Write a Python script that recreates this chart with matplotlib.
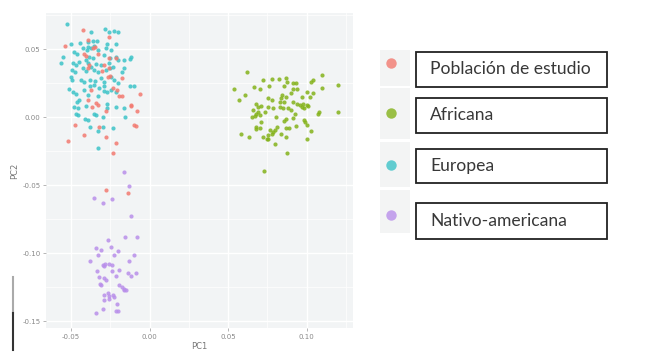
import matplotlib
matplotlib.use('Agg')
import matplotlib.pyplot as plt
from matplotlib.patches import Rectangle
from matplotlib.lines import Line2D
import numpy as np

# ---- data (PC1 / PC2 scores) ----
estudio_x = [-0.0424, -0.0542, -0.0391, -0.0258, -0.0363, -0.0346, -0.0416, -0.0405, -0.0331, -0.0258,
             -0.0215, -0.0384, -0.0394, -0.0289, -0.0304, -0.0258, -0.0268, -0.0253, -0.0173, -0.0236,
             -0.0373, -0.0209, -0.0194, -0.0173, -0.0061, -0.0394, -0.0342, -0.0331, -0.0367, -0.0278,
             -0.0120, -0.0120, -0.0078, -0.0473, -0.0325, -0.0099, -0.0089, -0.0416, -0.0278, -0.0521,
             -0.0215, -0.0232, -0.0277, -0.0136]
estudio_y = [0.0640, 0.0520, 0.0566, 0.0593, 0.0505, 0.0517, 0.0461, 0.0451, 0.0461, 0.0436,
             0.0436, 0.0382, 0.0358, 0.0382, 0.0338, 0.0363, 0.0296, 0.0304, 0.0285, 0.0211,
             0.0199, 0.0199, 0.0157, 0.0157, 0.0167, 0.0125, 0.0101, 0.0088, 0.0076, 0.0044,
             0.0093, 0.0083, 0.0044, -0.0059, -0.0071, -0.0054, -0.0064, -0.0132, -0.0145, -0.0174,
             -0.0193, -0.0260, -0.0537, -0.0559]

africana_x = [0.062, 0.110, 0.104, 0.103, 0.072, 0.078, 0.0825, 0.087, 0.0875, 0.091,
              0.0935, 0.0666, 0.070, 0.076, 0.0856, 0.091, 0.094, 0.054, 0.110, 0.090,
              0.100, 0.104, 0.061, 0.057, 0.084, 0.0835, 0.087, 0.0755, 0.078, 0.097,
              0.102, 0.0675, 0.069, 0.071, 0.083, 0.0856, 0.091, 0.094, 0.0956, 0.0977,
              0.100, 0.101, 0.0755, 0.0787, 0.083, 0.085, 0.088, 0.090, 0.097, 0.098,
              0.066, 0.069, 0.0734, 0.070, 0.068, 0.065, 0.067, 0.0804, 0.087, 0.0924,
              0.0913, 0.108, 0.107, 0.098, 0.099, 0.1004, 0.071, 0.0856, 0.068, 0.070,
              0.0675, 0.081, 0.087, 0.089, 0.0935, 0.0766, 0.0783, 0.0797, 0.0777, 0.0755,
              0.1025, 0.058, 0.0835, 0.087, 0.063, 0.072, 0.0745, 0.0755, 0.100, 0.080,
              0.0875, 0.073, 0.120, 0.120]
africana_y = [0.0330, 0.0310, 0.0270, 0.0260, 0.0270, 0.0280, 0.0280, 0.0285, 0.0260, 0.0250,
              0.0250, 0.0223, 0.0210, 0.0230, 0.0230, 0.0206, 0.0210, 0.0206, 0.0215, 0.0180,
              0.0186, 0.0180, 0.0160, 0.0130, 0.0160, 0.0140, 0.0150, 0.0140, 0.0125, 0.0150,
              0.0150, 0.0100, 0.0076, 0.0083, 0.0113, 0.0108, 0.0113, 0.0100, 0.0093, 0.0100,
              0.0093, 0.0083, 0.0076, 0.0064, 0.0076, 0.0068, 0.0064, 0.0050, 0.0076, 0.0064,
              0.0050, 0.0040, 0.0040, 0.0015, 0.0020, -0.0002, 0.0010, 0.0002, -0.0010, 0.0020,
              -0.0005, 0.0040, 0.0020, -0.0022, -0.0039, -0.0054, -0.0039, -0.0029, -0.0070, -0.0080,
              -0.0088, -0.0070, -0.0083, -0.0080, -0.0066, -0.0096, -0.0108, -0.0096, -0.0120, -0.0130,
              -0.0103, -0.0120, -0.0127, -0.0145, -0.0145, -0.0145, -0.0160, -0.0157, -0.0157, -0.0200,
              -0.0267, -0.0397, 0.0235, 0.0040]

europea_x = [-0.0527, -0.0285, -0.0258, -0.0230, -0.0201, -0.0373, -0.0500, -0.0441, -0.0391, -0.0363,
             -0.0335, -0.0272, -0.0215, -0.0391, -0.0373, -0.0353, -0.0331, -0.0399, -0.0278, -0.0247,
             -0.0426, -0.0483, -0.0462, -0.0553, -0.0563, -0.0384, -0.0363, -0.0405, -0.0289, -0.0251,
             -0.0215, -0.0204, -0.0166, -0.0120, -0.0125, -0.0489, -0.0468, -0.0447, -0.0394, -0.0373,
             -0.0342, -0.0310, -0.0258, -0.0236, -0.0163, -0.0173, -0.0496, -0.0475, -0.0426, -0.0405,
             -0.0353, -0.0331, -0.0278, -0.0251, -0.0500, -0.0496, -0.0437, -0.0416, -0.0378, -0.0348,
             -0.0310, -0.0289, -0.0247, -0.0226, -0.0204, -0.0125, -0.0099, -0.0378, -0.0353, -0.0321,
             -0.0289, -0.0511, -0.0489, -0.0468, -0.0420, -0.0394, -0.0289, -0.0272, -0.0247, -0.0215,
             -0.0447, -0.0462, -0.0327, -0.0479, -0.0458, -0.0405, -0.0272, -0.0272, -0.0215, -0.0163,
             -0.0158, -0.0468, -0.0454, -0.0342, -0.0356, -0.0299, -0.0411, -0.0391, -0.0378, -0.0299,
             -0.0331, -0.0236, -0.0327]
europea_y = [0.0684, 0.0645, 0.0627, 0.0632, 0.0627, 0.0627, 0.0535, 0.0542, 0.0554, 0.0561,
             0.0561, 0.0537, 0.0535, 0.0517, 0.0505, 0.0522, 0.0493, 0.0493, 0.0505, 0.0493,
             0.0505, 0.0480, 0.0463, 0.0443, 0.0395, 0.0443, 0.0432, 0.0419, 0.0456, 0.0432,
             0.0443, 0.0419, 0.0419, 0.0439, 0.0425, 0.0395, 0.0382, 0.0407, 0.0395, 0.0370,
             0.0390, 0.0382, 0.0395, 0.0370, 0.0358, 0.0333, 0.0346, 0.0333, 0.0358, 0.0340,
             0.0346, 0.0333, 0.0346, 0.0358, 0.0296, 0.0277, 0.0272, 0.0260, 0.0272, 0.0267,
             0.0285, 0.0260, 0.0296, 0.0272, 0.0252, 0.0228, 0.0228, 0.0228, 0.0235, 0.0211,
             0.0228, 0.0204, 0.0186, 0.0174, 0.0199, 0.0162, 0.0193, 0.0186, 0.0199, 0.0186,
             0.0125, 0.0113, 0.0154, 0.0076, 0.0064, 0.0081, 0.0096, 0.0064, 0.0076, 0.0064,
             -0.0002, 0.0027, 0.0015, 0.0015, 0.0027, 0.0002, -0.0017, -0.0022, -0.0071, -0.0071,
             -0.0103, -0.0083, -0.0230]

nativo_x = [-0.0163, -0.0131, -0.0356, -0.0299, -0.0242, -0.0120, -0.0156, -0.0082, -0.0268, -0.0342,
            -0.0310, -0.0247, -0.0204, -0.0331, -0.0226, -0.0099, -0.0378, -0.0131, -0.0285, -0.0299,
            -0.0289, -0.0258, -0.0242, -0.0335, -0.0242, -0.0198, -0.0141, -0.0120, -0.0089, -0.0321,
            -0.0289, -0.0278, -0.0215, -0.0315, -0.0310, -0.0194, -0.0173, -0.0163, -0.0152, -0.0166,
            -0.0289, -0.0268, -0.0258, -0.0236, -0.0293, -0.0258, -0.0226, -0.0209, -0.0299, -0.0215,
            -0.0201, -0.0342]
nativo_y = [-0.0400, -0.0505, -0.0593, -0.0630, -0.0598, -0.0726, -0.0880, -0.0880, -0.0904, -0.0965,
            -0.0973, -0.0958, -0.0983, -0.1010, -0.1010, -0.1010, -0.1060, -0.1060, -0.1076, -0.1088,
            -0.1096, -0.1081, -0.1088, -0.1132, -0.1132, -0.1125, -0.1145, -0.1169, -0.1145, -0.1174,
            -0.1186, -0.1199, -0.1169, -0.1223, -0.1235, -0.1235, -0.1248, -0.1260, -0.1272, -0.1272,
            -0.1304, -0.1296, -0.1314, -0.1309, -0.1346, -0.1340, -0.1321, -0.1375, -0.1407, -0.1426,
            -0.1425, -0.1443]

labels = ['Población de estudio', 'Africana', 'Europea', 'Nativo-americana']
colors = ['#F27A70', '#84B21A', '#3CC3C8', '#B98FEA']

xticks = [-0.05, 0.00, 0.05, 0.10]
yticks = [-0.15, -0.10, -0.05, 0.00, 0.05]

fig = plt.figure(figsize=(6.5, 3.53), dpi=100)
ax = fig.add_axes([0.0708, 0.0708, 0.4723, 0.892])
ax.set_facecolor('#F2F4F5')
for s in ax.spines.values():
    s.set_visible(False)

groups = [(estudio_x, estudio_y), (africana_x, africana_y), (europea_x, europea_y), (nativo_x, nativo_y)]
order = [2, 0, 1, 3]
for i in order:
    gx, gy = groups[i]
    ax.scatter(gx, gy, s=9, color=colors[i], alpha=0.85, linewidths=0, zorder=3)

ax.set_xlim(-0.066, 0.1295)
ax.set_ylim(-0.155, 0.0765)
ax.set_xticks(xticks)
ax.set_yticks(yticks)
ax.set_xticklabels(['-0.05', '0.00', '0.05', '0.10'])
ax.set_yticklabels(['-0.15', '-0.10', '-0.05', '0.00', '0.05'])
ax.set_xticks([-0.025, 0.025, 0.075, 0.125], minor=True)
ax.set_yticks([-0.125, -0.075, -0.025, 0.025, 0.075], minor=True)
ax.grid(True, which='major', color='white', linewidth=1.0)
ax.grid(True, which='minor', color='white', linewidth=0.5)
ax.set_axisbelow(True)
ax.tick_params(which='major', length=2, width=0.5, color='#999999', labelsize=5, labelcolor='#888888', pad=2)
ax.tick_params(which='minor', length=0)
ax.set_xlabel('PC1', fontsize=6, color='#777777', labelpad=2)
ax.set_ylabel('PC2', fontsize=6, color='#777777', labelpad=2)

# ---- legend drawn as boxes on the figure (pixel -> figure coords) ----
W, H = 650.0, 353.0
def fx(px):
    return px / W
def fy(py):
    return 1 - py / H

key_rows = [(50, 86), (88, 139), (142, 187), (190, 233)]
dot_y = [63, 113, 165, 215]
box_rows = [(52, 87), (98, 133), (149, 183), (203, 239)]
for i in range(4):
    k0, k1 = key_rows[i]
    fig.patches.append(Rectangle((fx(380), fy(k1)), fx(410) - fx(380), fy(k0) - fy(k1),
                                 transform=fig.transFigure, facecolor='#F3F4F4', edgecolor='none'))
    fig.add_artist(Line2D([fx(391)], [fy(dot_y[i])], marker='o', markersize=7.5,
                          color=colors[i], alpha=0.8, markeredgewidth=0, transform=fig.transFigure))
    b0, b1 = box_rows[i]
    fig.patches.append(Rectangle((fx(416), fy(b1)), fx(607) - fx(416), fy(b0) - fy(b1),
                                 transform=fig.transFigure, facecolor='white', edgecolor='#222222',
                                 linewidth=1.3))
    fig.text(fx(430), fy((b0 + b1) / 2), labels[i], fontsize=12.6, family='Lato',
             color='#383838', va='center', ha='left')

# small vertical bar at bottom left
fig.add_artist(Line2D([fx(13), fx(13)], [fy(277), fy(313)], color='#aaaaaa', lw=1.5, transform=fig.transFigure))
fig.add_artist(Line2D([fx(13), fx(13)], [fy(313), fy(350)], color='#333333', lw=1.5, transform=fig.transFigure))

fig.savefig('out.png', dpi=100)
